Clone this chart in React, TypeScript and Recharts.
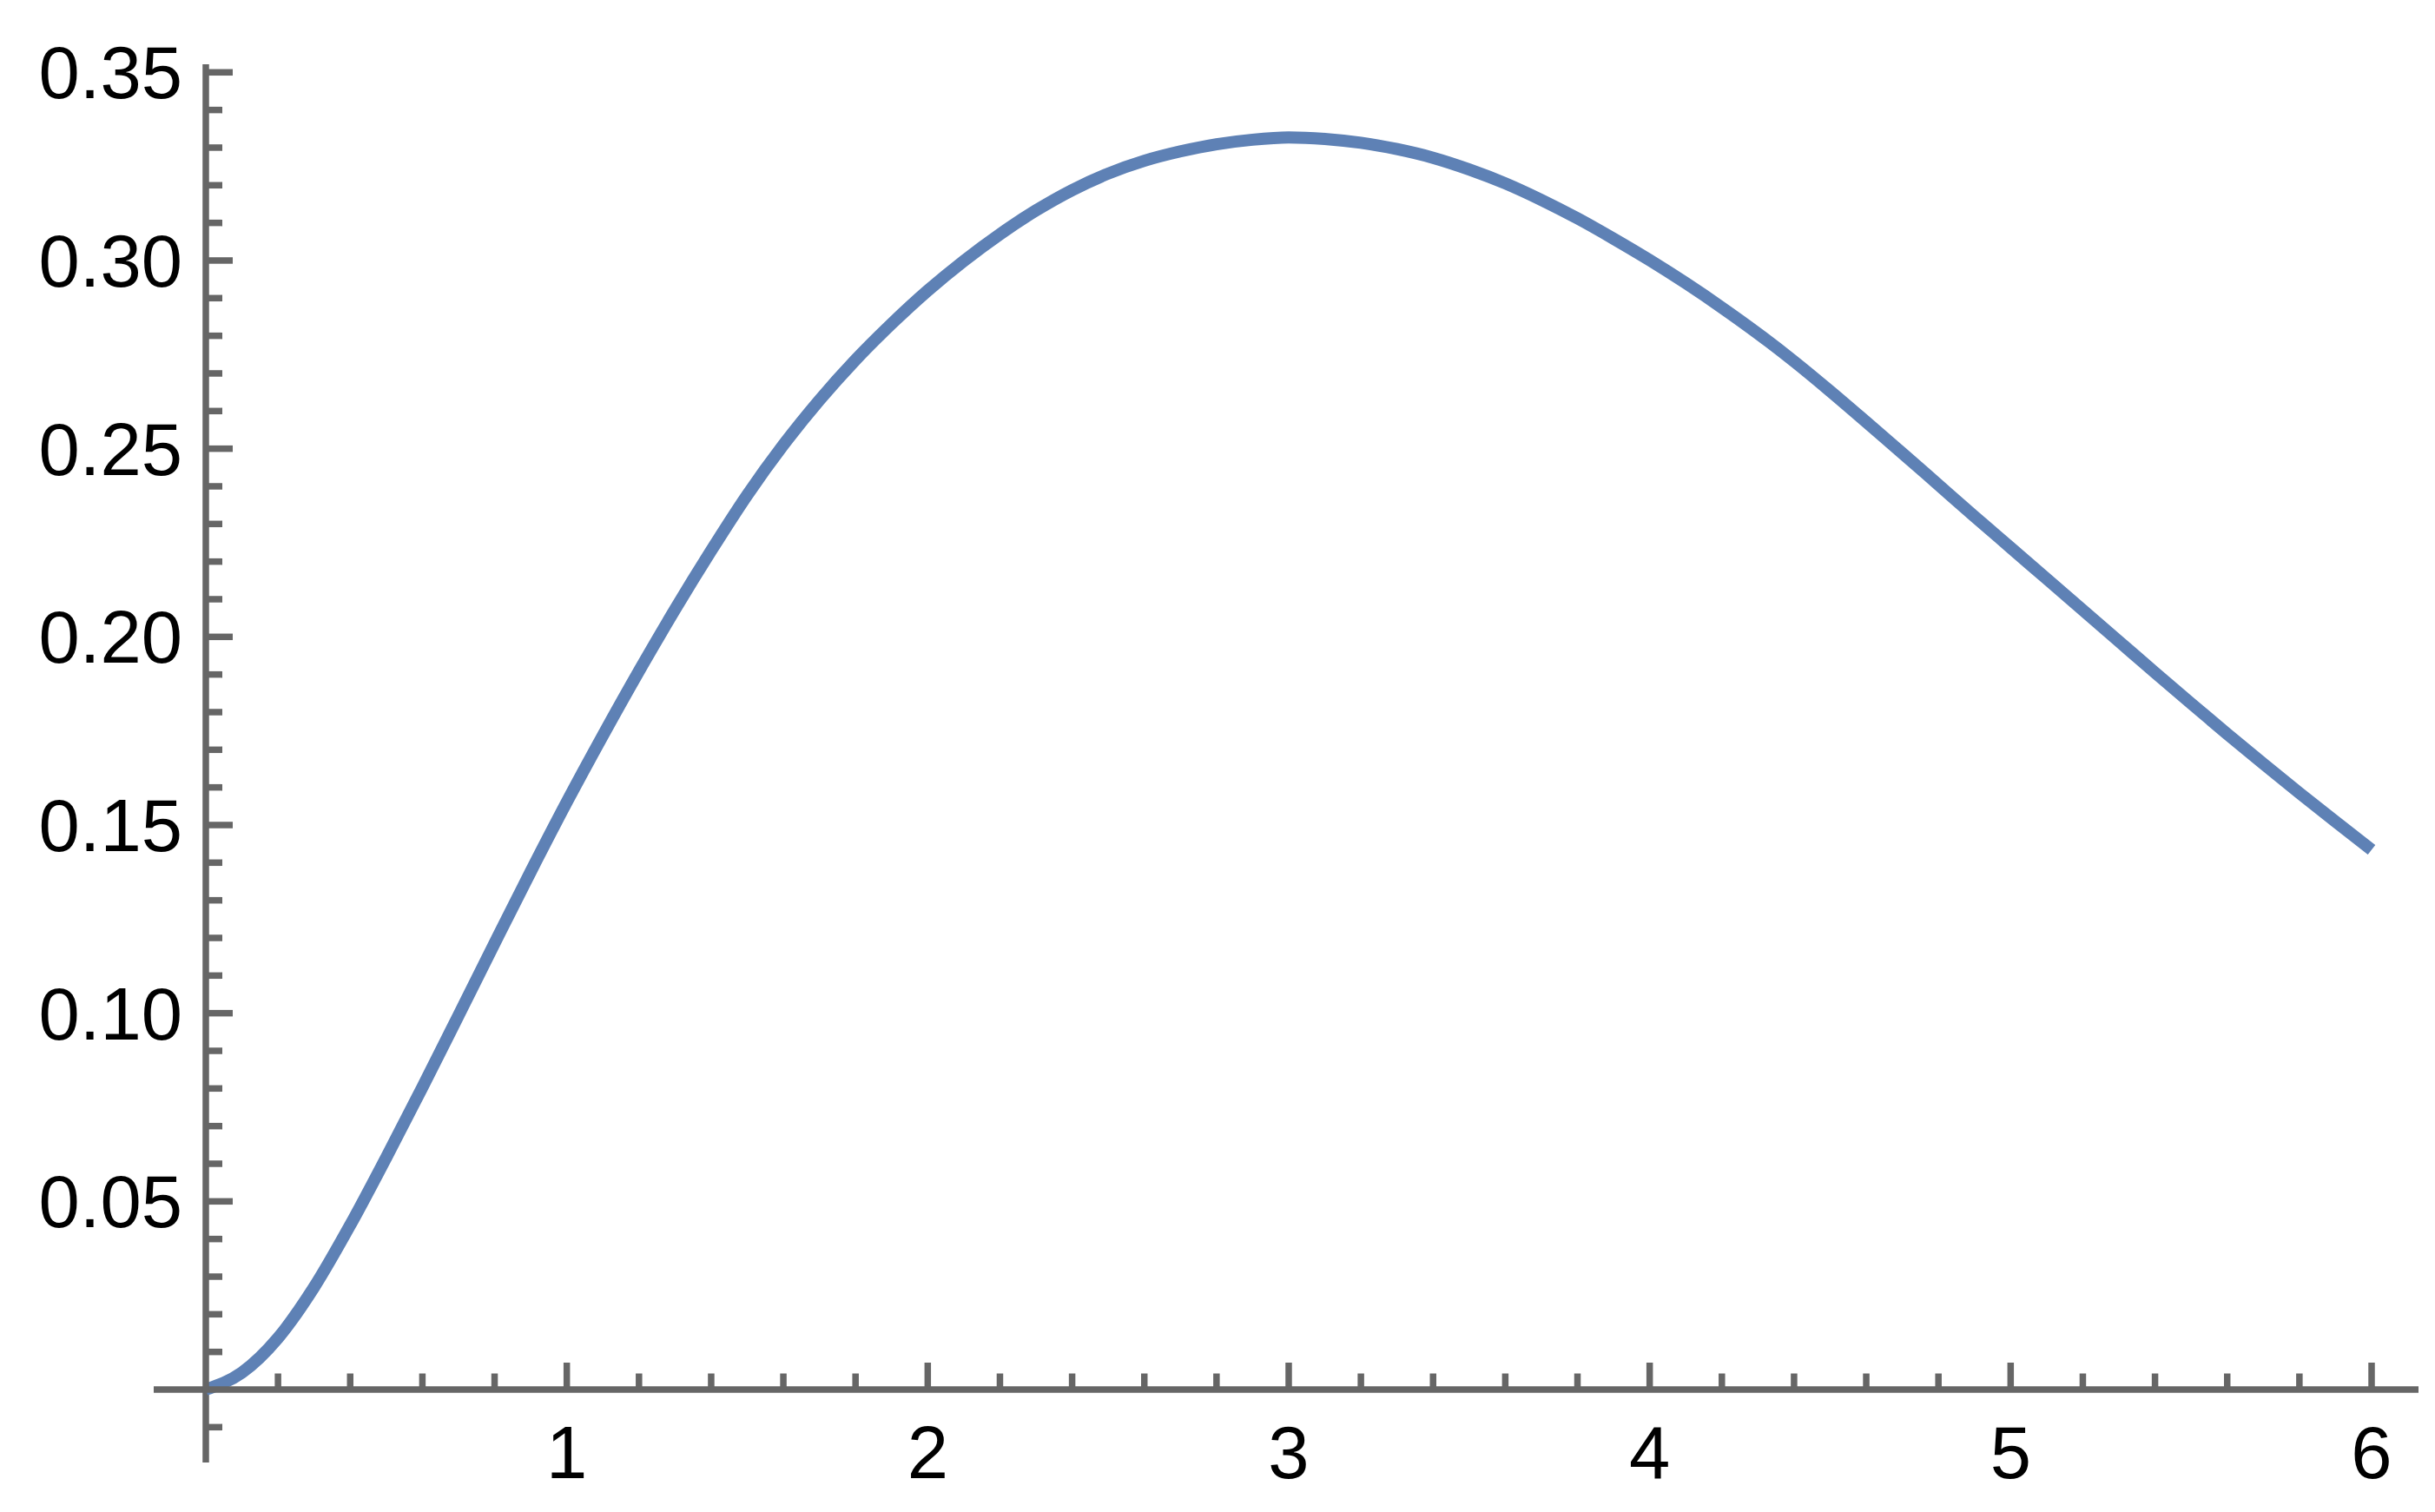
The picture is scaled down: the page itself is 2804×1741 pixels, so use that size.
import React from "react";
import { LineChart, Line, XAxis, YAxis, ReferenceLine } from "recharts";

// Curve samples (x step 0.1)
const xValues = [
  0, 0.1, 0.2, 0.3, 0.4, 0.5, 0.6, 0.7, 0.8, 0.9, 1.0, 1.1, 1.2, 1.3, 1.4, 1.5, 1.6, 1.7, 1.8, 1.9,
  2.0, 2.1, 2.2, 2.3, 2.4, 2.5, 2.6, 2.7, 2.8, 2.9, 3.0, 3.1, 3.2, 3.3, 3.4, 3.5, 3.6, 3.7, 3.8, 3.9,
  4.0, 4.1, 4.2, 4.3, 4.4, 4.5, 4.6, 4.7, 4.8, 4.9, 5.0, 5.1, 5.2, 5.3, 5.4, 5.5, 5.6, 5.7, 5.8, 5.9,
  6.0,
];
const yValues = [
  0, 0.0045, 0.0137, 0.0272, 0.0437, 0.0617, 0.0803, 0.0994, 0.1186, 0.1376, 0.1561, 0.1738, 0.1909,
  0.2073, 0.2229, 0.2377, 0.251, 0.2629, 0.2736, 0.2832, 0.292, 0.2999, 0.307, 0.3133, 0.3187,
  0.3231, 0.3265, 0.329, 0.3309, 0.3321, 0.3327, 0.3323, 0.3313, 0.3296, 0.3273, 0.3242, 0.3205,
  0.3161, 0.3112, 0.3058, 0.3001, 0.294, 0.2875, 0.2806, 0.2732, 0.2653, 0.2571, 0.2488, 0.2404,
  0.2320, 0.2237, 0.2154, 0.2071, 0.1988, 0.1905, 0.1823, 0.1742, 0.1663, 0.1585, 0.1509, 0.1434,
];

// Tick positions
const xTicks = [
  0.2, 0.4, 0.6, 0.8, 1, 1.2, 1.4, 1.6, 1.8, 2, 2.2, 2.4, 2.6, 2.8, 3, 3.2, 3.4, 3.6, 3.8, 4, 4.2,
  4.4, 4.6, 4.8, 5, 5.2, 5.4, 5.6, 5.8, 6,
];
const xMajorLabels: Record<string, string> = { "1": "1", "2": "2", "3": "3", "4": "4", "5": "5", "6": "6" };
const yTicks = [
  -0.01, 0.01, 0.02, 0.03, 0.04, 0.05, 0.06, 0.07, 0.08, 0.09, 0.1, 0.11, 0.12, 0.13, 0.14, 0.15,
  0.16, 0.17, 0.18, 0.19, 0.2, 0.21, 0.22, 0.23, 0.24, 0.25, 0.26, 0.27, 0.28, 0.29, 0.3, 0.31,
  0.32, 0.33, 0.34, 0.35,
];
const yMajorLabels: Record<string, string> = {
  "0.05": "0.05", "0.1": "0.10", "0.15": "0.15", "0.2": "0.20", "0.25": "0.25", "0.3": "0.30", "0.35": "0.35",
};

// Plot range (Mathematica-style padded range)
const xRangeMin = -0.14435;
const xRangeMax = 6.12995;
const yRangeMin = -0.019384;
const yRangeMax = 0.352146;

const data = xValues.map((x, i) => ({ x, y: yValues[i] }));

const AXIS = "#666666";
const AXIS_W = 7.5;
const FONT = "Arial, 'Liberation Sans', Helvetica, sans-serif";

const XTick = (props: any) => {
  const { x, y, payload } = props;
  const key = String(Number(payload.value.toFixed(4)));
  const label = xMajorLabels[key];
  const len = label ? 31 : 18.5;
  return (
    <g>
      <line x1={x} y1={y} x2={x} y2={y - len} stroke={AXIS} strokeWidth={AXIS_W} />
      {label && (
        <text x={x} y={y + 102} textAnchor="middle" fontFamily={FONT} fontSize={85} fill="#000">
          {label}
        </text>
      )}
    </g>
  );
};

const YTick = (props: any) => {
  const { x, y, payload } = props;
  const key = String(Number(payload.value.toFixed(4)));
  const label = yMajorLabels[key];
  const len = label ? 31 : 19;
  return (
    <g>
      <line x1={x} y1={y} x2={x + len} y2={y} stroke={AXIS} strokeWidth={AXIS_W} />
      {label && (
        <text x={x - 27} y={y + 30} textAnchor="end" fontFamily={FONT} fontSize={85} fill="#000">
          {label}
        </text>
      )}
    </g>
  );
};

export default function App() {
  return (
    <div style={{ position: "absolute", left: 0, top: 0, background: "#fff" }}>
      <LineChart
        width={2804}
        height={1741}
        data={data}
        margin={{ top: 74, right: 19, bottom: 100, left: 177 }}
      >
        <XAxis
          type="number"
          dataKey="x"
          domain={[0, xRangeMax]}
          ticks={xTicks}
          interval={0}
          height={41}
          tickSize={0}
          tickMargin={0}
          tickLine={false}
          axisLine={{ stroke: AXIS, strokeWidth: AXIS_W }}
          tick={<XTick />}
        />
        <YAxis
          type="number"
          domain={[0, yRangeMax]}
          ticks={yTicks}
          interval={0}
          width={60}
          tickSize={0}
          tickMargin={0}
          tickLine={false}
          axisLine={{ stroke: AXIS, strokeWidth: AXIS_W }}
          tick={<YTick />}
        />
        <ReferenceLine
          segment={[{ x: xRangeMin, y: 0 }, { x: 0, y: 0 }]}
          stroke={AXIS}
          strokeWidth={AXIS_W}
          ifOverflow="visible"
        />
        <ReferenceLine
          segment={[{ x: 0, y: yRangeMin }, { x: 0, y: 0 }]}
          stroke={AXIS}
          strokeWidth={AXIS_W}
          ifOverflow="visible"
        />
        <Line
          type="monotone"
          dataKey="y"
          stroke="#5E81B5"
          strokeWidth={14}
          dot={false}
          activeDot={false}
          isAnimationActive={false}
        />
      </LineChart>
    </div>
  );
}
